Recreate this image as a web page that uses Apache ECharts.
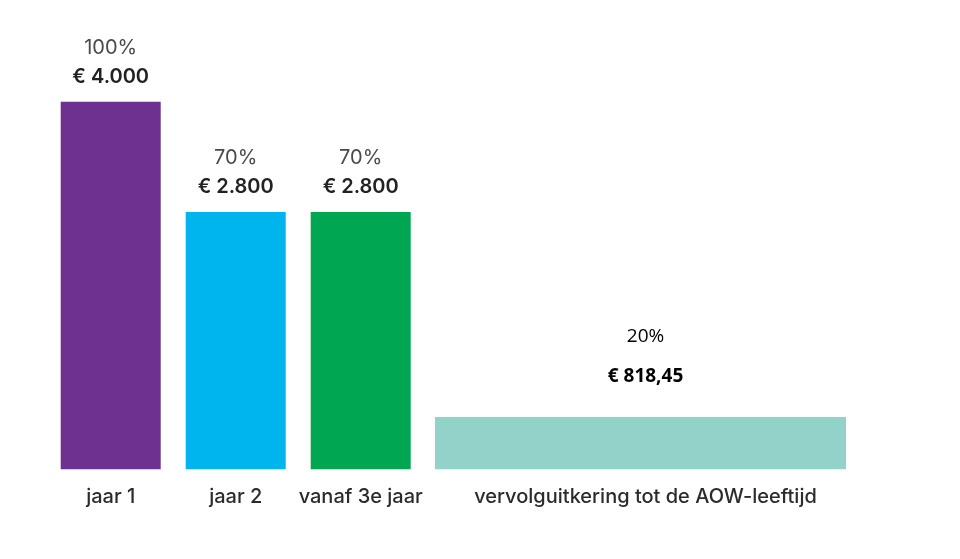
<!DOCTYPE html>
<html>
<head>
<meta charset="utf-8">
<script src="https://cdn.jsdelivr.net/npm/echarts@6/dist/echarts.min.js"></script>
<style>html,body{margin:0;padding:0;background:#fff}#c{width:960px;height:559px}</style>
</head>
<body>
<div id="c"></div>
<script>
const categories = ['jaar 1', 'jaar 2', 'vanaf 3e jaar'];
const values = [4000, 2800, 2800];
const percents = ['100%', '70%', '70%'];
const amounts = ['€ 4.000', '€ 2.800', '€ 2.800'];
const colors = ['#6F3190', '#00B4EE', '#00A651'];

const lastCategory = 'vervolguitkering tot de AOW-leeftijd';
const lastValue = 570;
const lastPercent = '20%';
const lastAmount = '€ 818,45';
const lastColor = '#93D2C8';

const yMax = 4000;
const mainFont = 'Inter';

const chart = echarts.init(document.getElementById('c'));
chart.setOption({
  animation: false,
  grid: [
    { left: 48.2, width: 375, top: 101.7, bottom: 89.7 },
    { left: 435, width: 411, top: 101.7, bottom: 89.7 }
  ],
  xAxis: [
    { gridIndex: 0, type: 'category', data: categories,
      axisLine: { show: false }, axisTick: { show: false },
      axisLabel: { interval: 0, margin: 17, fontFamily: mainFont, fontSize: 20, fontWeight: 500, color: '#2b2b2b', lineHeight: 22 } },
    { gridIndex: 1, type: 'category', data: [lastCategory],
      axisLine: { show: false }, axisTick: { show: false },
      axisLabel: { interval: 0, margin: 17, fontFamily: mainFont, fontSize: 20, fontWeight: 500, color: '#2b2b2b', lineHeight: 22, padding: [0, 0, 0, 10] } }
  ],
  yAxis: [
    { gridIndex: 0, type: 'value', min: 0, max: yMax, show: false },
    { gridIndex: 1, type: 'value', min: 0, max: yMax, show: false }
  ],
  series: [
    {
      type: 'bar', xAxisIndex: 0, yAxisIndex: 0, barWidth: 100,
      data: values.map((v, i) => ({ value: v, itemStyle: { color: colors[i] } })),
      label: {
        show: true, position: 'top', distance: 11,
        formatter: p => '{p|' + percents[p.dataIndex] + '}\n{a|' + amounts[p.dataIndex] + '}',
        rich: {
          p: { fontFamily: mainFont, fontSize: 20, fontWeight: 'normal', color: '#4a4a4a', lineHeight: 29 },
          a: { fontFamily: mainFont, fontSize: 20, fontWeight: 600, color: '#222', lineHeight: 28 }
        }
      }
    },
    {
      type: 'bar', xAxisIndex: 1, yAxisIndex: 1, barWidth: '100%',
      data: [{ value: lastValue, itemStyle: { color: lastColor } }],
      label: {
        show: true, position: 'top', distance: 20, offset: [5, 0],
        formatter: () => '{p|' + lastPercent + '}\n{a|' + lastAmount + '}',
        rich: {
          p: { fontFamily: 'Open Sans', fontSize: 19, color: '#000', lineHeight: 40 },
          a: { fontFamily: 'Open Sans', fontSize: 19, fontWeight: 'bold', color: '#000', lineHeight: 40 }
        }
      }
    }
  ]
});
</script>
</body>
</html>
